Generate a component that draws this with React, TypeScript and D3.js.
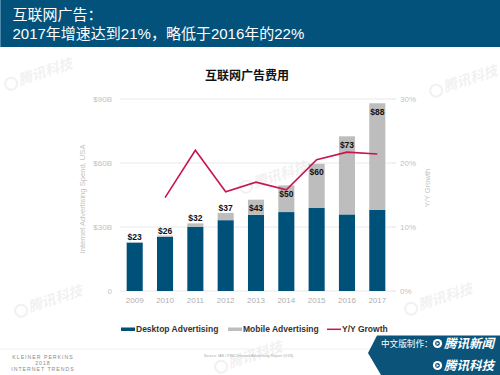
import React from "react";
import * as d3 from "d3";

const years = ["2009", "2010", "2011", "2012", "2013", "2014", "2015", "2016", "2017"];
const desktop = [22.7, 25.4, 30.1, 33.2, 35.7, 37.0, 38.9, 35.9, 38.1];
const mobile = [0.3, 0.6, 1.6, 3.4, 7.1, 12.5, 20.7, 36.6, 49.9];
const totalLabels = ["$23", "$26", "$32", "$37", "$43", "$50", "$60", "$73", "$88"];
const growthYears = ["2010", "2011", "2012", "2013", "2014", "2015", "2016", "2017"];
const growth = [14.6, 22.0, 15.5, 17.0, 15.8, 20.5, 21.7, 21.4];
const leftTicks = [0, 30, 60, 90];
const leftTickLabels = ["0", "$30B", "$60B", "$90B"];
const rightTicks = [0, 10, 20, 30];
const rightTickLabels = ["0%", "10%", "20%", "30%"];
const legendItems = ["Desktop Advertising", "Mobile Advertising", "Y/Y Growth"];

const BLUE = "#00517A";
const GREY = "#BDBDBD";
const RED = "#C8174E";
const LATIN = "'Liberation Sans', Arial, 'Noto Sans CJK SC', sans-serif";
const CJK = "'Liberation Sans', 'Noto Sans CJK SC', sans-serif";

export default function App() {
  const x = d3.scaleBand<string>().domain(years).range([120, 392]).paddingInner(0.47).paddingOuter(0.22);
  const y = d3.scaleLinear().domain([0, 90]).range([291, 99]);
  const y2 = d3.scaleLinear().domain([0, 30]).range([291, 99]);
  const line = d3
    .line<number>()
    .x((_, i) => (x(growthYears[i]) as number) + x.bandwidth() / 2)
    .y((d) => y2(d));

  const watermarks = [
    { x: 445, y: 92 },
    { x: 255, y: 188 },
    { x: 30, y: 312 },
    { x: 420, y: 310 },
    { x: 230, y: 368 },
    { x: 20, y: 85 },
  ];

  return (
    <svg width={500} height={375} style={{ position: "absolute", left: 0, top: 0, background: "#fff" }}>
      <rect x={0} y={0} width={500} height={375} fill="#fff" />
      {/* header */}
      <rect x={0} y={0} width={500} height={47} fill="#02527B" />
      <rect x={0} y={0} width={1} height={47} fill="#4a86a8" />
      <text x={12.5} y={20} fill="#fff" fontSize={15} fontFamily={CJK}>互联网广告：</text>
      <text x={12.5} y={38.5} fill="#fff" fontSize={15} fontFamily={CJK}>2017年增速达到21%，略低于2016年的22%</text>

      {/* watermarks */}
      {watermarks.map((w, i) => (
        <g key={i} transform={`translate(${w.x},${w.y}) rotate(-18)`} opacity={0.05}>
          <circle cx={-8} cy={-4} r={6} fill="none" stroke="#000" strokeWidth={2} />
          <text x={0} y={0} fontSize={14} fontWeight="bold" fontStyle="italic" fontFamily={CJK} fill="#000">腾讯科技</text>
        </g>
      ))}

      {/* chart title */}
      <text x={247} y={80} textAnchor="middle" fontSize={12} fontWeight="bold" fontFamily={CJK} fill="#111">互联网广告费用</text>

      {/* gridlines */}
      {leftTicks.map((t) => (
        <line key={t} x1={120} x2={392} y1={y(t)} y2={y(t)} stroke="#e9e9e9" strokeWidth={1} />
      ))}
      {rightTicks.map((t) => (
        <line key={"rt" + t} x1={392} x2={396} y1={y2(t)} y2={y2(t)} stroke="#e0e0e0" strokeWidth={1} />
      ))}
      {leftTicks.map((t, i) => (
        <text key={"l" + t} x={112} y={y(t)} dy="0.35em" textAnchor="end" fontSize={8} fill="#c2c2c2" fontFamily={LATIN}>
          {leftTickLabels[i]}
        </text>
      ))}
      {rightTicks.map((t, i) => (
        <text key={"r" + t} x={400} y={y2(t)} dy="0.35em" textAnchor="start" fontSize={8} fill="#c2c2c2" fontFamily={LATIN}>
          {rightTickLabels[i]}
        </text>
      ))}
      <text transform={`translate(85,199) rotate(-90)`} textAnchor="middle" fontSize={7.6} fill="#c4c4c4" fontFamily={LATIN}>
        Internet Advertising Spend, USA
      </text>
      <text transform={`translate(430,188) rotate(-90)`} textAnchor="middle" fontSize={7.6} fill="#c4c4c4" fontFamily={LATIN}>
        Y/Y Growth
      </text>

      {/* bars */}
      {years.map((yr, i) => {
        const bx = x(yr) as number;
        const bw = x.bandwidth();
        const total = desktop[i] + mobile[i];
        const inside = mobile[i] > 5;
        return (
          <g key={yr}>
            <rect x={bx} y={y(desktop[i])} width={bw} height={y(0) - y(desktop[i])} fill={BLUE} />
            <rect x={bx} y={y(total)} width={bw} height={y(desktop[i]) - y(total)} fill={GREY} />
            <text
              x={bx + bw / 2}
              y={inside ? y(total) + 11.5 : y(total) - 2}
              textAnchor="middle"
              fontSize={8.5}
              fontWeight="bold"
              fill="#111"
              fontFamily={LATIN}
            >
              {totalLabels[i]}
            </text>
            <text x={bx + bw / 2} y={303} textAnchor="middle" fontSize={8} fill="#b0b0b0" fontFamily={LATIN}>
              {yr}
            </text>
          </g>
        );
      })}

      {/* growth line */}
      <path d={line(growth) as string} fill="none" stroke={RED} strokeWidth={1.6} strokeLinejoin="miter" />

      {/* legend */}
      <g fontFamily={LATIN} fontSize={8.5} fontWeight="bold" fill="#333">
        <rect x={121} y={327.5} width={14} height={3.5} fill={BLUE} />
        <text x={136} y={332}>{legendItems[0]}</text>
        <rect x={228} y={327.5} width={14} height={3.5} fill={GREY} />
        <text x={243} y={332}>{legendItems[1]}</text>
        <line x1={327} x2={341} y1={329.3} y2={329.3} stroke={RED} strokeWidth={1.5} />
        <text x={342} y={332}>{legendItems[2]}</text>
      </g>

      {/* footer */}
      <line x1={0} x2={372} y1={349} y2={349} stroke="#efefef" strokeWidth={1} />
      <g fontFamily={LATIN} fill="#8a8a8a" fontSize={5.2} textAnchor="middle" letterSpacing={1}>
        <text x={43} y={358.5}>KLEINER PERKINS</text>
        <text x={43} y={364.5}>2018</text>
        <text x={43} y={371}>INTERNET TRENDS</text>
      </g>
      <text x={249} y={356.5} textAnchor="middle" fontSize={3.8} fill="#aaa" fontFamily={LATIN}>
        Source: IAB / PWC Internet Advertising Report (5/18).
      </text>

      {/* badge */}
      <polygon points="377,335.5 500,335.5 500,375 381,375 368,353" fill="#0C5379" />
      <text x={381} y={347} fill="#fff" fontSize={8.6} fontFamily={CJK}>中文版制作：</text>
      {[343.5, 365.5].map((cy, i) => (
        <g key={i}>
          <circle cx={437.5} cy={cy} r={4.6} fill="#fff" />
          <circle cx={437.5} cy={cy} r={2.4} fill="#0C5379" />
          <path d={`M${436.5},${cy - 1.4} L${439},${cy} L${436.5},${cy + 1.4} Z`} fill="#fff" />
        </g>
      ))}
      <text x={444} y={348} fill="#fff" fontSize={12.5} fontWeight="bold" fontStyle="italic" fontFamily={CJK}>腾讯新闻</text>
      <text x={444} y={370} fill="#fff" fontSize={12.5} fontWeight="bold" fontStyle="italic" fontFamily={CJK}>腾讯科技</text>
    </svg>
  );
}
